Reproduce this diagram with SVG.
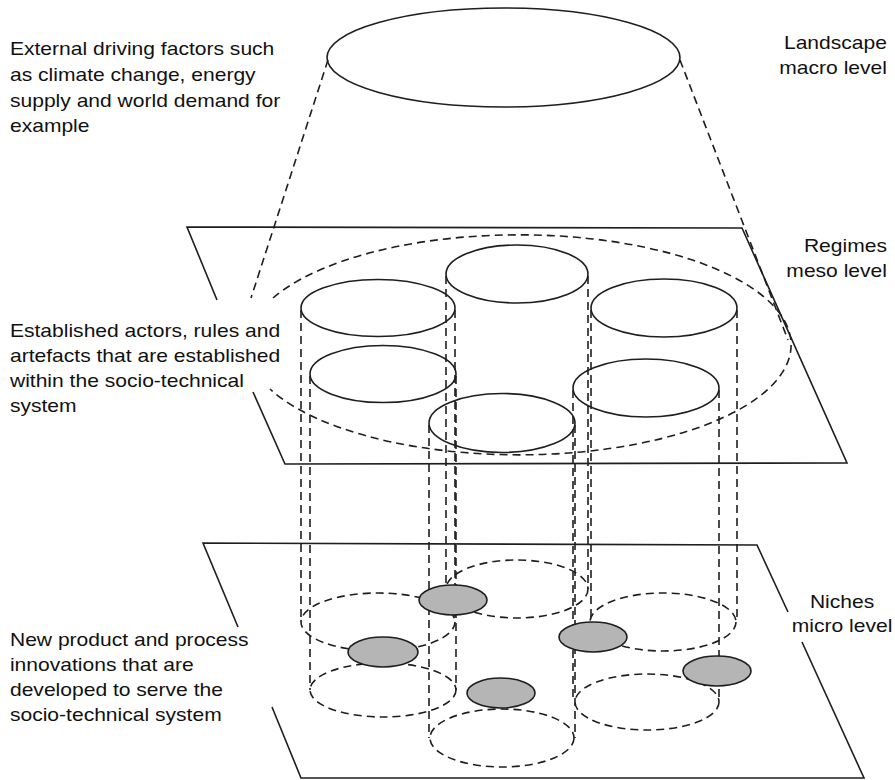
<svg xmlns="http://www.w3.org/2000/svg" width="895" height="780" viewBox="0 0 895 780">
<style>
.s{fill:none;stroke:#1e1e1e;stroke-width:1.6}
.d{fill:none;stroke:#1e1e1e;stroke-width:1.6;stroke-dasharray:8 5}
.g{fill:#b5b5b5;stroke:#1e1e1e;stroke-width:1.6}
.t{font-family:"Liberation Sans",Arial,sans-serif;font-size:18px;fill:#111}
</style>
<rect width="895" height="780" fill="#fff"/>
<g id="landscape">
<ellipse class="s" cx="503.5" cy="57.5" rx="176.5" ry="49.5"/>
</g>
<g id="connectors">
<line class="d" x1="328" y1="60" x2="251" y2="298"/>
<line class="d" x1="680" y1="60" x2="788" y2="340"/>
<path class="d" d="M273 298 A272 110 0 1 1 270 389"/>
<line class="d" x1="301" y1="310" x2="301" y2="622"/>
<line class="d" x1="455" y1="310" x2="455" y2="622"/>
<line class="d" x1="310" y1="376" x2="310" y2="690"/>
<line class="d" x1="456" y1="376" x2="456" y2="690"/>
<line class="d" x1="446" y1="276" x2="446" y2="589"/>
<line class="d" x1="588" y1="276" x2="588" y2="589"/>
<line class="d" x1="591" y1="310" x2="591" y2="622"/>
<line class="d" x1="737" y1="310" x2="737" y2="622"/>
<line class="d" x1="573" y1="390" x2="573" y2="702"/>
<line class="d" x1="719" y1="390" x2="719" y2="702"/>
<line class="d" x1="429" y1="425" x2="429" y2="738"/>
<line class="d" x1="575" y1="425" x2="575" y2="738"/>
</g>
<g id="regime-plane">
<polyline class="s" points="217,300 187,227 742,228 847,463 285,464 253,392"/>
</g>
<g id="regimes">
<ellipse id="r1" class="s" cx="378" cy="308" rx="77" ry="28.5"/>
<ellipse id="r2" class="s" cx="383" cy="374" rx="73" ry="28.5"/>
<ellipse id="r3" class="s" cx="517" cy="274" rx="71" ry="29"/>
<ellipse id="r4" class="s" cx="664" cy="308" rx="73" ry="29"/>
<ellipse id="r5" class="s" cx="646" cy="388" rx="73" ry="29"/>
<ellipse id="r6" class="s" cx="502" cy="423" rx="73" ry="29.5"/>
</g>
<g id="niche-plane">
<polyline class="s" points="238,627 203,543 757,545 788,612"/>
<polyline class="s" points="802,642 864,778 301,778 272,707"/>
</g>
<g id="bases">
<ellipse class="d" cx="378" cy="622" rx="77" ry="29"/>
<ellipse class="d" cx="383" cy="690" rx="73" ry="27"/>
<ellipse class="d" cx="517" cy="589" rx="71" ry="29"/>
<ellipse class="d" cx="663" cy="622" rx="73" ry="29"/>
<ellipse class="d" cx="647" cy="702" rx="72" ry="28"/>
<ellipse class="d" cx="502" cy="738" rx="72" ry="29"/>
</g>
<g id="niches">
<ellipse id="n1" class="g" cx="383" cy="652" rx="35" ry="15"/>
<ellipse id="n2" class="g" cx="453" cy="600" rx="34" ry="15"/>
<ellipse id="n3" class="g" cx="593" cy="637" rx="34" ry="15"/>
<ellipse id="n4" class="g" cx="717" cy="671" rx="34" ry="15"/>
<ellipse id="n5" class="g" cx="501" cy="693" rx="34" ry="15"/>
</g>
<g id="labels" class="t" transform="scale(1.17 1)">
<text x="8.5" y="55.5">External driving factors such</text>
<text x="8.5" y="81.5">as climate change, energy</text>
<text x="8.5" y="107">supply and world demand for</text>
<text x="8.5" y="132.5">example</text>
<text x="758.1" y="49" text-anchor="end">Landscape</text>
<text x="758.1" y="74" text-anchor="end">macro level</text>
<text x="758.1" y="252" text-anchor="end">Regimes</text>
<text x="758.1" y="277" text-anchor="end">meso level</text>
<text x="8.5" y="337">Established actors, rules and</text>
<text x="8.5" y="362">artefacts that are established</text>
<text x="8.5" y="387">within the socio-technical</text>
<text x="8.5" y="412">system</text>
<text x="719.7" y="608" text-anchor="middle">Niches</text>
<text x="719.7" y="632" text-anchor="middle">micro level</text>
<text x="8.5" y="646">New product and process</text>
<text x="8.5" y="671">innovations that are</text>
<text x="8.5" y="696">developed to serve the</text>
<text x="8.5" y="721">socio-technical system</text>
</g>
</svg>
